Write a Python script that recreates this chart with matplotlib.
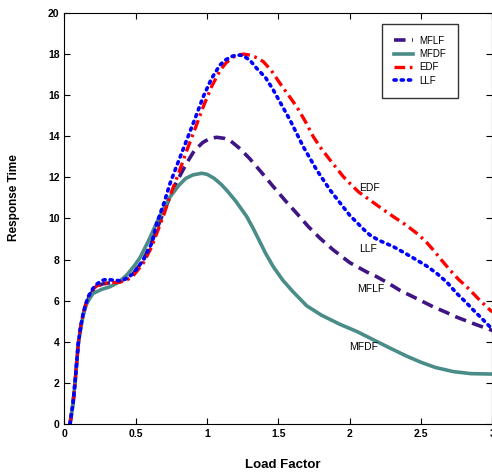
import matplotlib.pyplot as plt

plt.rcParams['font.family'] = ['Liberation Sans', 'DejaVu Sans']

# values (load factor, response time)
mflf_x = [0.039, 0.06, 0.074, 0.097, 0.115, 0.132, 0.15, 0.167, 0.20, 0.226, 0.27, 0.30, 0.35, 0.39,
          0.44, 0.48, 0.55, 0.62, 0.70, 0.78, 0.857, 0.91, 0.97, 1.02, 1.067, 1.12, 1.16, 1.23,
          1.30, 1.38, 1.464, 1.55, 1.628, 1.71, 1.791, 1.884, 2.0, 2.118, 2.188, 2.27, 2.352,
          2.47, 2.585, 2.67, 2.749, 2.88, 3.0]
mflf_y = [0.0, 1.0, 2.0, 3.9, 4.75, 5.35, 5.8, 6.1, 6.5, 6.7, 6.82, 6.85, 6.9, 6.95,
          7.1, 7.3, 7.95, 9.0, 10.4, 11.7, 12.7, 13.3, 13.7, 13.9, 13.95, 13.9, 13.8, 13.4,
          12.9, 12.25, 11.55, 10.85, 10.25, 9.6, 9.04, 8.47, 7.85, 7.4, 7.17, 6.85, 6.5,
          6.1, 5.7, 5.45, 5.2, 4.85, 4.55]

mfdf_x = [0.039, 0.06, 0.074, 0.097, 0.115, 0.132, 0.15, 0.167, 0.20, 0.26, 0.32, 0.38, 0.437,
          0.49, 0.53, 0.588, 0.65, 0.70, 0.74, 0.80, 0.85, 0.90, 0.962, 1.0, 1.05, 1.10, 1.14,
          1.20, 1.277, 1.32, 1.36, 1.41, 1.464, 1.53, 1.60, 1.698, 1.80, 1.931, 2.05, 2.165,
          2.28, 2.399, 2.50, 2.60, 2.725, 2.85, 3.0]
mfdf_y = [0.0, 1.0, 2.0, 3.9, 4.7, 5.3, 5.75, 6.0, 6.35, 6.55, 6.68, 6.9, 7.25,
          7.7, 8.1, 8.9, 9.85, 10.55, 11.05, 11.6, 11.95, 12.12, 12.2, 12.15, 11.95, 11.65, 11.35,
          10.85, 10.1, 9.55, 9.0, 8.3, 7.65, 7.0, 6.45, 5.75, 5.3, 4.85, 4.5, 4.1,
          3.7, 3.3, 3.0, 2.75, 2.55, 2.45, 2.43]

edf_x = [0.039, 0.06, 0.074, 0.097, 0.115, 0.132, 0.15, 0.167, 0.20, 0.226, 0.27, 0.30, 0.35, 0.39,
         0.44, 0.48, 0.55, 0.61, 0.647, 0.70, 0.74, 0.80, 0.857, 0.92, 0.973, 1.03, 1.09, 1.13,
         1.17, 1.21, 1.254, 1.30, 1.35, 1.394, 1.45, 1.511, 1.57, 1.628, 1.69, 1.744, 1.80, 1.861,
         1.955, 2.0, 2.06, 2.14, 2.22, 2.305, 2.39, 2.469, 2.53, 2.585, 2.64, 2.702, 2.76, 2.819,
         2.90, 2.982, 3.0]
edf_y = [0.0, 1.0, 2.0, 3.94, 4.8, 5.4, 5.85, 6.2, 6.55, 6.72, 6.82, 6.85, 6.88, 6.9,
         7.02, 7.2, 7.8, 8.6, 9.28, 10.25, 11.1, 12.2, 13.3, 14.45, 15.44, 16.4, 17.2, 17.55,
         17.8, 17.95, 18.0, 17.95, 17.82, 17.63, 17.2, 16.57, 16.0, 15.44, 14.7, 13.98, 13.4, 12.85,
         12.03, 11.71, 11.3, 10.9, 10.5, 10.09, 9.7, 9.28, 8.9, 8.47, 8.0, 7.49, 7.05, 6.68,
         6.1, 5.55, 5.45]

llf_x = [0.039, 0.06, 0.074, 0.097, 0.115, 0.132, 0.15, 0.167, 0.20, 0.226, 0.26, 0.296, 0.34, 0.39,
         0.44, 0.483, 0.553, 0.612, 0.647, 0.70, 0.74, 0.80, 0.857, 0.92, 0.973, 1.03, 1.09, 1.13,
         1.17, 1.21, 1.25, 1.30, 1.348, 1.41, 1.464, 1.52, 1.581, 1.674, 1.768, 1.861, 1.91, 1.955,
         2.0, 2.05, 2.10, 2.14, 2.20, 2.305, 2.39, 2.469, 2.54, 2.609, 2.68, 2.749, 2.81, 2.865,
         2.93, 2.982, 3.0]
llf_y = [0.0, 1.0, 2.0, 3.94, 4.8, 5.4, 5.85, 6.2, 6.6, 6.8, 6.98, 7.04, 7.0, 6.97,
         7.1, 7.33, 7.98, 8.8, 9.77, 10.8, 11.71, 12.8, 13.82, 14.95, 15.93, 16.8, 17.47, 17.72,
         17.88, 17.96, 17.93, 17.7, 17.3, 16.85, 16.25, 15.55, 14.79, 13.49, 12.36, 11.39, 10.95, 10.55,
         10.15, 9.8, 9.45, 9.2, 8.95, 8.63, 8.3, 7.98, 7.68, 7.33, 6.9, 6.36, 5.95, 5.55,
         5.1, 4.73, 4.6]

fig = plt.figure(figsize=(4.92, 4.72), dpi=100)
ax = fig.add_axes([0.131, 0.1017, 0.870, 0.8708])

ax.plot(mflf_x, mflf_y, color='#3f1585', lw=2.6, linestyle=(0, (3.2, 1.8)), label='MFLF')
ax.plot(mfdf_x, mfdf_y, color='#4a8c88', lw=2.6, linestyle='-', solid_joinstyle='round',
        label='MFDF')
ax.plot(edf_x, edf_y, color='#ff0000', lw=2.4, linestyle=(0, (3.2, 1.4, 0.8, 1.4)), label='EDF')
ax.plot(llf_x, llf_y, color='#0000ff', lw=2.6, linestyle=(0, (0.6, 1.4)),
        dash_capstyle='round', label='LLF')

# curve labels inside the plot
ax.text(2.14, 11.5, 'EDF', fontsize=7.5, ha='center', va='center')
ax.text(2.13, 8.5, 'LLF', fontsize=7.5, ha='center', va='center')
ax.text(2.15, 6.55, 'MFLF', fontsize=7.5, ha='center', va='center')
ax.text(2.095, 3.75, 'MFDF', fontsize=7.5, ha='center', va='center')

ax.set_xlim(0, 3)
ax.set_ylim(0, 20)
ax.set_xticks([0, 0.5, 1, 1.5, 2, 2.5, 3])
ax.set_xticklabels(['0', '0.5', '1', '1.5', '2', '2.5', '3'])
ax.set_yticks(range(0, 21, 2))
ax.tick_params(direction='in', top=True, right=True, length=4, labelsize=7.5)
for lbl in ax.get_xticklabels() + ax.get_yticklabels():
    lbl.set_fontweight('bold')

ax.set_xlabel('Load Factor', fontsize=9.5, fontweight='bold')
ax.set_ylabel('Response Time', fontsize=8.5, fontweight='bold')
ax.xaxis.set_label_coords(0.51, -0.085)
ax.yaxis.set_label_coords(-0.104, 0.55)

leg = ax.legend(loc='upper right', bbox_to_anchor=(0.93, 0.985), fontsize=7, frameon=True,
                fancybox=False, edgecolor='black', handlelength=2.0, borderpad=1.2,
                labelspacing=0.35, handletextpad=0.6)
leg.get_frame().set_linewidth(1.0)

fig.savefig('out.png', dpi=100)
